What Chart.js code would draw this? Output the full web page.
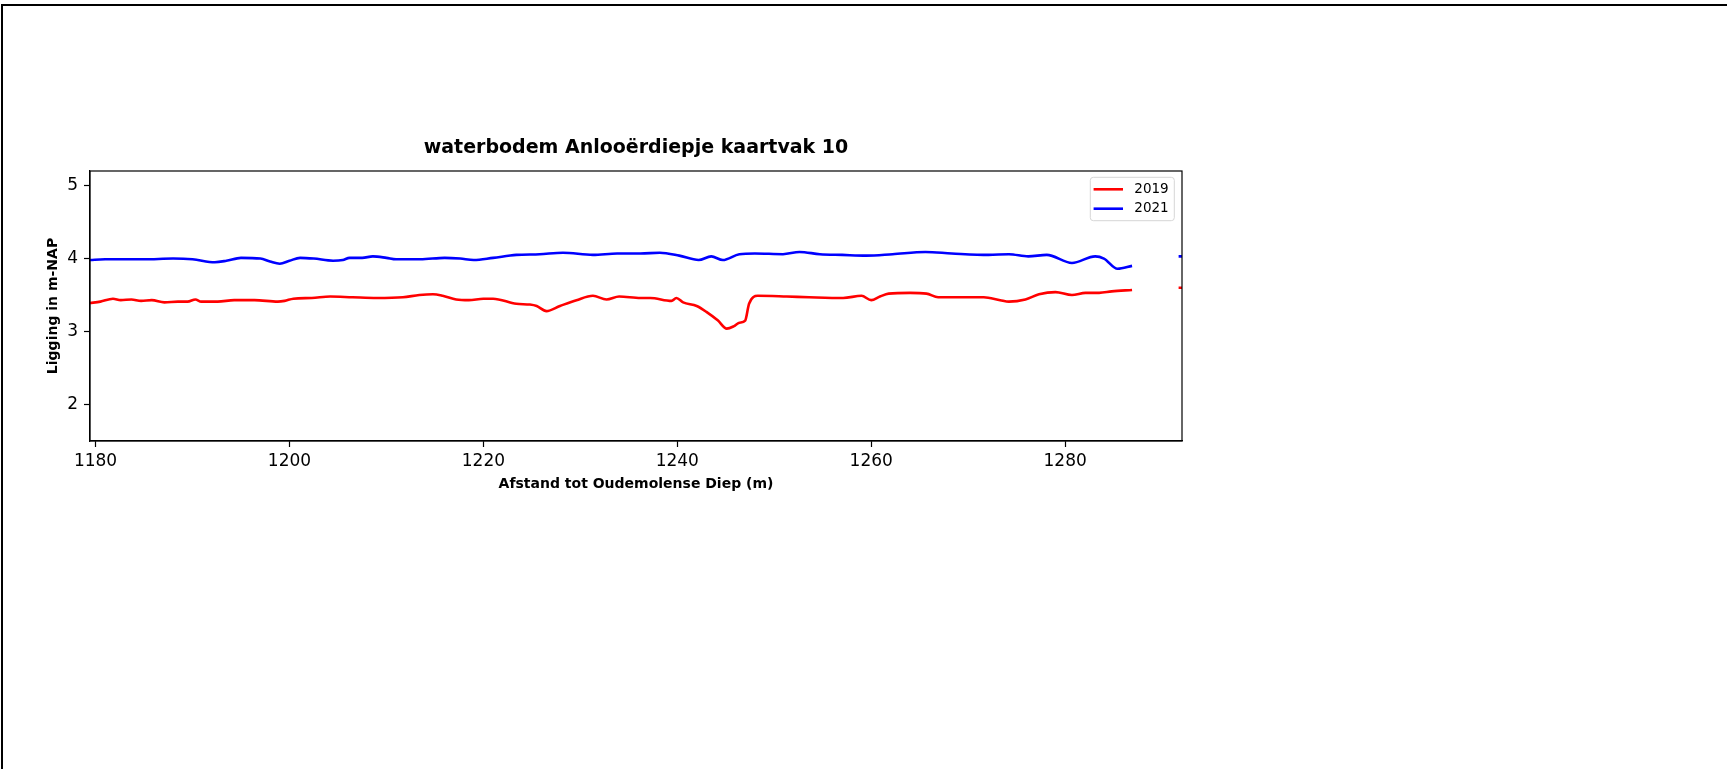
<!DOCTYPE html>
<html lang="nl">
<head>
<meta charset="UTF-8">
<title>waterbodem Anlooërdiepje kaartvak 10</title>
<style>
    body {
        margin: 0;
        background: #fff;
        overflow: hidden;
    }
    #frame {
        position: absolute;
        left: 1px;
        top: 4px;
        width: 1800px;
        height: 820px;
        border: 2px solid #000;
        box-sizing: border-box;
    }
    #chart {
        position: absolute;
        left: 0;
        top: 0;
    }
</style>
</head>
<body>
<div id="frame"></div>
<canvas id="chart" width="1727" height="769"></canvas>

<script src="https://cdn.jsdelivr.net/npm/chart.js"></script>
<script>
    // afstand (m) en ligging (m-NAP); null = geen meting
    const afstand2019 = [1179.4, 1180.5, 1181.8, 1182.6, 1183.7, 1184.7, 1185.8, 1187.1, 1188.5, 1189.5,
        1190.3, 1190.9, 1192.6, 1194.3, 1196.4, 1198.8, 1199.5, 1200.4, 1202.3, 1204.2,
        1206.5, 1209.0, 1211.7, 1213.4, 1214.8, 1215.8, 1217.2, 1218.5, 1220.0, 1221.0,
        1223.4, 1224.8, 1225.5, 1226.5, 1227.9, 1229.6, 1231.3, 1232.7, 1234.0, 1236.2,
        1237.2, 1239.4, 1239.9, 1240.6, 1242.0, 1243.0, 1244.2, 1245.1, 1245.8, 1246.4,
        1247.0, 1247.4, 1248.3, 1251.3, 1253.6, 1257.1, 1259.0, 1260.0, 1260.9, 1261.8,
        1264.0, 1265.7, 1266.9, 1269.2, 1271.6, 1273.3, 1274.2, 1275.9, 1277.3, 1279.0,
        1280.7, 1282.1, 1283.5, 1284.8, 1286.9, 1289.0, 1291.7, 1293.0];
    const ligging2019 = [3.39, 3.41, 3.45, 3.43, 3.44, 3.42, 3.43, 3.40, 3.41, 3.41,
        3.44, 3.41, 3.41, 3.43, 3.43, 3.41, 3.42, 3.45, 3.46, 3.48,
        3.47, 3.46, 3.47, 3.50, 3.51, 3.49, 3.44, 3.43, 3.45, 3.45,
        3.38, 3.37, 3.35, 3.28, 3.35, 3.43, 3.49, 3.44, 3.48, 3.46,
        3.46, 3.42, 3.46, 3.40, 3.35, 3.27, 3.15, 3.04, 3.07, 3.12,
        3.15, 3.38, 3.49, 3.48, 3.47, 3.46, 3.49, 3.43, 3.48, 3.52,
        3.53, 3.52, 3.47, 3.47, 3.47, 3.43, 3.41, 3.44, 3.51, 3.54,
        3.50, 3.53, 3.53, 3.55, 3.57, null, 3.60, 3.60];

    const afstand2021 = [1179.4, 1181.0, 1185.0, 1188.0, 1190.0, 1192.3, 1193.5, 1195.0, 1197.0, 1198.0,
        1199.0, 1200.0, 1201.1, 1202.5, 1204.5, 1205.5, 1206.2, 1207.5, 1208.6, 1210.0,
        1211.0, 1213.5, 1216.0, 1217.6, 1219.0, 1221.0, 1223.4, 1225.8, 1228.2, 1231.3,
        1233.8, 1236.2, 1238.2, 1240.2, 1242.2, 1243.5, 1244.7, 1246.4, 1248.0, 1250.9,
        1252.6, 1254.7, 1257.0, 1259.5, 1262.2, 1265.6, 1268.3, 1272.1, 1274.2, 1276.2,
        1278.1, 1280.7, 1283.1, 1284.0, 1285.4, 1286.9, 1289.0, 1291.7, 1293.0];
    const ligging2021 = [3.98, 3.99, 3.99, 4.00, 3.99, 3.95, 3.97, 4.01, 4.00, 3.96,
        3.93, 3.97, 4.01, 4.00, 3.97, 3.98, 4.01, 4.01, 4.03, 4.01,
        3.99, 3.99, 4.01, 4.00, 3.98, 4.01, 4.05, 4.06, 4.08, 4.05,
        4.07, 4.07, 4.08, 4.04, 3.98, 4.03, 3.98, 4.06, 4.07, 4.06,
        4.09, 4.06, 4.05, 4.04, 4.06, 4.09, 4.07, 4.05, 4.06, 4.03,
        4.05, 3.94, 4.03, 4.00, 3.86, 3.90, null, 4.03, 4.03];

    const afstandTicks = [1180, 1200, 1220, 1240, 1260, 1280];
    const liggingTicks = [2, 3, 4, 5];

    const titel = 'waterbodem Anlooërdiepje kaartvak 10';
    const fontFamily = '"DejaVu Sans", sans-serif';

    function toPoints(xs, ys) {
        return xs.map((x, i) => ({ x: x, y: ys[i] }));
    }

    // titel boven het plotvlak, kader rond de plot en legenda met rand
    const frameAndLegend = {
        id: 'frameAndLegend',
        afterDraw(chart) {
            const ctx = chart.ctx;
            const area = chart.chartArea;
            ctx.save();
            ctx.fillStyle = '#000';
            ctx.font = 'bold 19px ' + fontFamily;
            ctx.textAlign = 'center';
            ctx.textBaseline = 'middle';
            ctx.fillText(titel, (area.left + area.right) / 2, area.top - 22.5);

            ctx.strokeStyle = '#000';
            ctx.lineWidth = 1.2;
            ctx.strokeRect(area.left, area.top, area.right - area.left, area.bottom - area.top);

            const sets = chart.data.datasets;
            const w = 84, h = 43.4, rowH = 19.4;
            const x0 = area.right - 7.7 - w;
            const y0 = area.top + 6.3;
            ctx.beginPath();
            ctx.roundRect(x0, y0, w, h, 3);
            ctx.fillStyle = 'rgba(255,255,255,0.8)';
            ctx.fill();
            ctx.strokeStyle = '#d6d6d6';
            ctx.lineWidth = 1;
            ctx.stroke();
            ctx.textAlign = 'left';
            sets.forEach((ds, i) => {
                const y = y0 + 12 + i * rowH;
                ctx.strokeStyle = ds.borderColor;
                ctx.lineWidth = 2.6;
                ctx.beginPath();
                ctx.moveTo(x0 + 3.3, y);
                ctx.lineTo(x0 + 32.7, y);
                ctx.stroke();
                ctx.fillStyle = '#000';
                ctx.font = '13.5px ' + fontFamily;
                ctx.fillText(ds.label, x0 + 44, y);
            });
            ctx.restore();
        }
    };

    const ctx = document.getElementById('chart').getContext('2d');

    const chart = new Chart(ctx, {
        type: 'line',
        data: {
            datasets: [{
                label: '2019',
                data: toPoints(afstand2019, ligging2019),
                borderColor: '#ff0000',
                borderWidth: 2.6,
                pointRadius: 0,
                cubicInterpolationMode: 'monotone',
                fill: false
            }, {
                label: '2021',
                data: toPoints(afstand2021, ligging2021),
                borderColor: '#0000ff',
                borderWidth: 2.6,
                pointRadius: 0,
                cubicInterpolationMode: 'monotone',
                fill: false
            }]
        },
        options: {
            responsive: false,
            animation: false,
            devicePixelRatio: 1,
            layout: {
                padding: { left: 30, top: 171, right: 545, bottom: 268 }
            },
            plugins: {
                legend: { display: false },
                tooltip: { enabled: false },
                title: { display: false }
            },
            scales: {
                x: {
                    type: 'linear',
                    min: 1179.43,
                    max: 1292.05,
                    afterBuildTicks: s => { s.ticks = afstandTicks.map(v => ({ value: v })); },
                    afterFit: s => { s.height = 60; },
                    ticks: {
                        autoSkip: false,
                        maxRotation: 0,
                        padding: 4,
                        color: '#000',
                        font: { family: fontFamily, size: 17 },
                        callback: v => String(v)
                    },
                    grid: {
                        drawOnChartArea: false,
                        drawTicks: true,
                        tickLength: 6,
                        tickColor: '#000',
                        tickWidth: 1.2
                    },
                    border: { display: true, color: '#000', width: 1.2 },
                    title: {
                        display: true,
                        text: 'Afstand tot Oudemolense Diep (m)',
                        color: '#000',
                        font: { family: fontFamily, size: 14, weight: 'bold' },
                        padding: { top: 0, bottom: 8 }
                    }
                },
                y: {
                    type: 'linear',
                    min: 1.5,
                    max: 5.2,
                    afterBuildTicks: s => { s.ticks = liggingTicks.map(v => ({ value: v })); },
                    afterFit: s => { s.width = 60; },
                    ticks: {
                        padding: 6,
                        color: '#000',
                        font: { family: fontFamily, size: 17 },
                        callback: v => String(v)
                    },
                    grid: {
                        drawOnChartArea: false,
                        drawTicks: true,
                        tickLength: 6,
                        tickColor: '#000',
                        tickWidth: 1.2
                    },
                    border: { display: true, color: '#000', width: 1.2 },
                    title: {
                        display: true,
                        text: 'Ligging in m-NAP',
                        color: '#000',
                        font: { family: fontFamily, size: 14, weight: 'bold' },
                        padding: { top: 15, bottom: 0 }
                    }
                }
            }
        },
        plugins: [frameAndLegend]
    });
</script>
</body>
</html>
